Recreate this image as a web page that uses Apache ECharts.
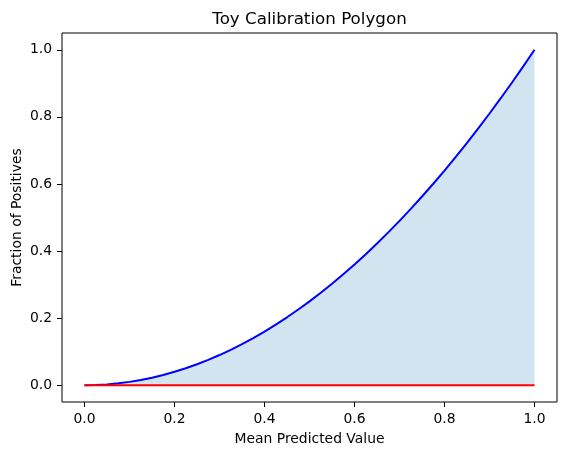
<!DOCTYPE html>
<html><head><meta charset="utf-8">
<script src="https://cdn.jsdelivr.net/npm/echarts@6/dist/echarts.min.js"></script>
<style>html,body{margin:0;padding:0;background:#fff}#c{width:567px;height:455px}</style>
</head><body><div id="c"></div>
<script>
const xVals = [0,0.025,0.05,0.075,0.1,0.125,0.15,0.175,0.2,0.225,0.25,0.275,0.3,0.325,0.35,0.375,0.4,0.425,0.45,0.475,0.5,0.525,0.55,0.575,0.6,0.625,0.65,0.675,0.7,0.725,0.75,0.775,0.8,0.825,0.85,0.875,0.9,0.925,0.95,0.975,1.0];
const curveY = [0,0.0006,0.0025,0.0056,0.01,0.0156,0.0225,0.0306,0.04,0.0506,0.0625,0.0756,0.09,0.1056,0.1225,0.1406,0.16,0.1806,0.2025,0.2256,0.25,0.2756,0.3025,0.3306,0.36,0.3906,0.4225,0.4556,0.49,0.5256,0.5625,0.6006,0.64,0.6806,0.7225,0.7656,0.81,0.8556,0.9025,0.9506,1.0];
const baseX = [0, 1];
const baseY = [0, 0];
const xTicks = [0, 0.2, 0.4, 0.6, 0.8, 1.0];
const yTicks = [0, 0.2, 0.4, 0.6, 0.8, 1.0];
const titleText = 'Toy Calibration Polygon';
const xLabel = 'Mean Predicted Value';
const yLabel = 'Fraction of Positives';

const font = 'DejaVu Sans';
const chart = echarts.init(document.getElementById('c'), null, {renderer:'canvas'});
chart.setOption({
  animation:false,
  title:{text:titleText,left:304.5,textAlign:'center',top:6,textStyle:{fontFamily:font,fontSize:16.7,fontWeight:'normal',color:'#000'}},
  grid:{left:62,right:10,top:33,bottom:53,containLabel:false,outerBoundsMode:'none',show:true,borderColor:'#000',borderWidth:1,backgroundColor:'transparent'},
  xAxis:{type:'value',min:-0.05,max:1.05,
    name:xLabel,nameLocation:'middle',nameGap:30,nameTextStyle:{fontFamily:font,fontSize:13.9,color:'#000'},
    axisLine:{show:false,onZero:false},splitLine:{show:false},
    axisTick:{show:true,inside:false,length:5,customValues:xTicks,lineStyle:{color:'#000',width:1}},
    axisLabel:{customValues:xTicks,margin:10,fontFamily:font,fontSize:13.9,color:'#000',formatter:v=>v.toFixed(1)}},
  yAxis:{type:'value',min:-0.05,max:1.05,
    name:yLabel,nameLocation:'middle',nameGap:38,nameMoveOverlap:false,nameTextStyle:{fontFamily:font,fontSize:13.9,color:'#000'},
    axisLine:{show:false,onZero:false},splitLine:{show:false},
    axisTick:{show:true,inside:false,length:5,customValues:yTicks,lineStyle:{color:'#000',width:1}},
    axisLabel:{customValues:yTicks,margin:10,fontFamily:font,fontSize:13.9,color:'#000',formatter:v=>v.toFixed(1)}},
  series:[
    {type:'line',data:xVals.map((x,i)=>[x,curveY[i]]),showSymbol:false,
     lineStyle:{color:'#0000ff',width:2},areaStyle:{color:'rgba(31,119,180,0.2)',origin:'auto',opacity:1},z:2},
    {type:'line',data:baseX.map((x,i)=>[x,baseY[i]]),showSymbol:false,lineStyle:{color:'#ff0000',width:2},z:3}
  ]
});
</script></body></html>
